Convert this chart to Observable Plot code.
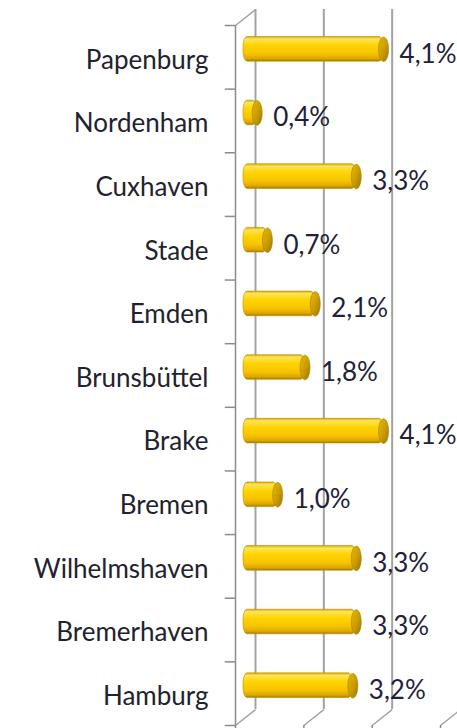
<!DOCTYPE html>
<html>
<head>
<meta charset="utf-8">
<script src="https://cdn.jsdelivr.net/npm/d3@7"></script>
<script src="https://cdn.jsdelivr.net/npm/@observablehq/plot@0.6"></script>
<style>
  html, body { margin: 0; padding: 0; background: #ffffff; }
  #chart svg { display: block; }
</style>
</head>
<body>
<div id="chart"></div>
<script>
// ---- data ----
const categories = ["Papenburg", "Nordenham", "Cuxhaven", "Stade", "Emden", "Brunsbüttel", "Brake", "Bremen", "Wilhelmshaven", "Bremerhaven", "Hamburg"];
const values = [4.1, 0.4, 3.3, 0.7, 2.1, 1.8, 4.1, 1.0, 3.3, 3.3, 3.2];
const valueLabels = ["4,1%", "0,4%", "3,3%", "0,7%", "2,1%", "1,8%", "4,1%", "1,0%", "3,3%", "3,3%", "3,2%"];
const xTicks = [0, 2, 4, 6];

// ---- build rows ----
const rows = categories.map((name, i) => ({name, i, v: values[i], label: valueLabels[i]}));
const bounds = d3.range(categories.length + 1);

// 3D depth of the wall (in data units of each scale)
const DX = 0.585, DY = 0.25;

// elliptical cap symbol for the cylinder ends
const capSymbol = {
  draw(ctx) {
    const a = 5, b = 12.3, k = 0.5523;
    ctx.moveTo(a, 0);
    ctx.bezierCurveTo(a, b * k, a * k, b, 0, b);
    ctx.bezierCurveTo(-a * k, b, -a, b * k, -a, 0);
    ctx.bezierCurveTo(-a, -b * k, -a * k, -b, 0, -b);
    ctx.bezierCurveTo(a * k, -b, a, -b * k, a, 0);
    ctx.closePath();
  }
};

const wall = "#a3a3a3";
const font = "Lato, 'Open Sans', sans-serif";

const chart = Plot.plot({
  width: 457,
  height: 728,
  marginLeft: 235,
  marginRight: 17,
  marginTop: 25,
  marginBottom: 3,
  style: {fontFamily: font, background: "#ffffff"},
  x: {domain: [0, 6], axis: null},
  y: {domain: [0, categories.length], reverse: true, axis: null},
  marks: [
    // back wall gridlines
    Plot.ruleX(xTicks, {x: d => d + DX, y1: -DY, y2: categories.length - DY, stroke: wall, strokeWidth: 2}),
    // floor diagonals
    Plot.link(xTicks, {x1: d => d, y1: categories.length, x2: d => d + DX, y2: categories.length - DY, stroke: wall, strokeWidth: 1.5}),
    // top-left diagonal of side wall
    Plot.link([0], {x1: 0, y1: 0, x2: DX, y2: -DY, stroke: wall, strokeWidth: 1.5}),
    // front axis line
    Plot.ruleX([0], {y1: 0, y2: categories.length, stroke: "#8c8c8c", strokeWidth: 1.5}),
    // left axis ticks at band boundaries
    Plot.ruleY(bounds, {y: d => d, x1: -0.3, x2: 0, stroke: "#8c8c8c", strokeWidth: 1.5}),
    // bottom front ticks
    Plot.ruleX(xTicks, {y1: categories.length, y2: categories.length + 0.1, stroke: "#8c8c8c", strokeWidth: 1.5}),
    // cylinder bodies
    Plot.rect(rows, {x1: 0, x2: "v", y1: d => d.i, y2: d => d.i + 1, insetTop: 19.5, insetBottom: 19.5, dx: 8, dy: -8, rx: 4, ry: 10, fill: "url(#barGrad)", stroke: "#b88f00", strokeWidth: 0.6}),
    // cylinder end caps
    Plot.dot(rows, {x: "v", y: d => d.i + 0.5, dx: 8, dy: -8, symbol: capSymbol, fill: "url(#capGrad)", stroke: "#a88200", strokeWidth: 0.6}),
    // value labels
    Plot.text(rows, {x: "v", y: d => d.i + 0.5, text: "label", dx: 24, dy: -3, textAnchor: "start", fontSize: 26, fill: "#1e2238", fontFamily: font}),
    // category labels
    Plot.text(rows, {x: 0, y: d => d.i + 0.5, text: "name", dx: -27, dy: 3, textAnchor: "end", fontSize: 26, fill: "#22222e", fontFamily: font})
  ]
});

// gradients for the cylinder shading
const ns = "http://www.w3.org/2000/svg";
const defs = document.createElementNS(ns, "defs");
defs.innerHTML = `
  <linearGradient id="barGrad" x1="0" y1="0" x2="0" y2="1">
    <stop offset="0" stop-color="#d9aa00"/>
    <stop offset="0.1" stop-color="#ffe45c"/>
    <stop offset="0.35" stop-color="#ffd400"/>
    <stop offset="0.7" stop-color="#f7c300"/>
    <stop offset="0.9" stop-color="#dca600"/>
    <stop offset="1" stop-color="#a37c00"/>
  </linearGradient>
  <linearGradient id="capGrad" x1="0" y1="0" x2="1" y2="1">
    <stop offset="0" stop-color="#e6b800"/>
    <stop offset="0.5" stop-color="#cc9e00"/>
    <stop offset="1" stop-color="#9c7600"/>
  </linearGradient>`;
chart.insertBefore(defs, chart.firstChild);

document.getElementById("chart").appendChild(chart);
</script>
</body>
</html>
